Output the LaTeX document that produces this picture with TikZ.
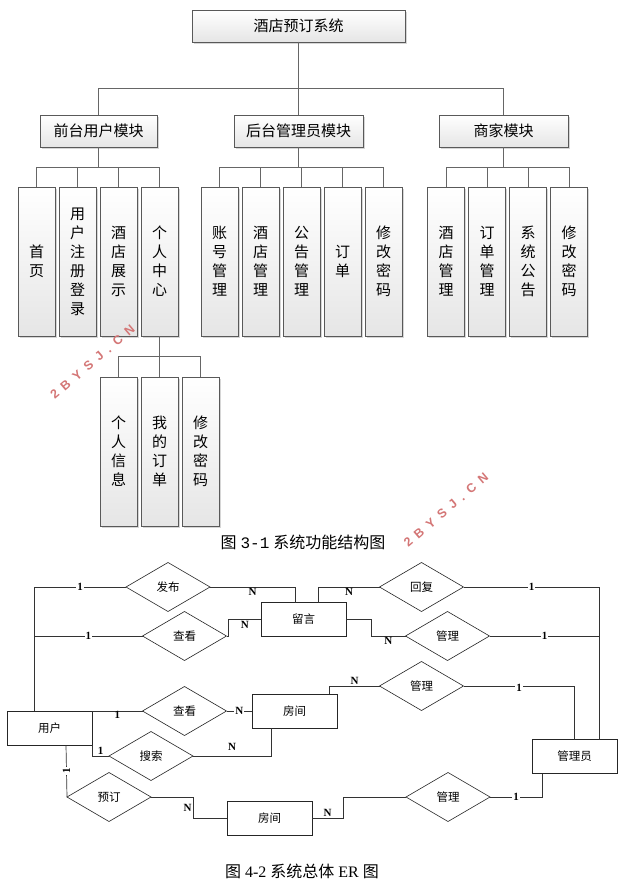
\documentclass[tikz,border=0pt]{standalone}
\usepackage{fontspec}
\setmainfont{Noto Sans CJK SC}
\newfontfamily\tnr{Liberation Serif}
\newfontfamily\monof{Liberation Mono}
\newfontfamily\wmfont{Liberation Sans}
\usetikzlibrary{shapes.geometric,shadows,calc}
\definecolor{wmred}{RGB}{212,118,118}
\newcommand\wmgap{\hspace{6.5pt}}
\newcommand\wmtext{\wmfont\bfseries 2\wmgap B\wmgap Y\wmgap S\wmgap J\wmgap .\wmgap C\wmgap N}
\begin{document}
\begin{tikzpicture}[x=1pt,y=-1pt,
  tline/.style={draw=gray!80!black, line width=0.8pt},
  fbox/.style={draw=gray!70!black, line width=0.9pt, top color=white, bottom color=gray!20,
    drop shadow={shadow xshift=1.6pt, shadow yshift=-1.6pt, fill=gray!70, opacity=0.45},
    inner sep=0pt, outer sep=0pt},
  modbox/.style={fbox, minimum height=32pt, font=\fontsize{15}{15}\selectfont},
  leaf/.style={fbox, minimum width=37pt, minimum height=149pt, align=center, font=\fontsize{15}{19}\selectfont},
  erline/.style={draw=black!80, line width=0.7pt},
  ent/.style={draw=black!85, line width=0.7pt, minimum width=85pt, minimum height=34pt, inner sep=0pt, outer sep=0pt, font=\fontsize{11.5}{12}\selectfont},
  rel/.style={diamond, draw=black!85, line width=0.6pt, minimum width=84pt, minimum height=49pt, inner sep=0pt, outer sep=0pt, font=\fontsize{11.5}{12}\selectfont},
  card/.style={font=\tnr\bfseries\fontsize{11}{11}\selectfont, inner sep=1pt},
  cardw/.style={card, fill=white},
  wm/.style={text=wmred, font=\fontsize{12.5}{13}\selectfont, inner sep=0pt},
  captext/.style={font=\fontsize{16}{16}\selectfont, inner sep=0pt}
]
\fill[white] (0,0) rectangle (626,888);
\useasboundingbox (0,0) rectangle (626,888);

% ---------- function structure ----------
\node[modbox, minimum width=213pt] (sys) at (298.5,26) {酒店预订系统};
\node[modbox, minimum width=117pt] (m1) at (98.5,131) {前台用户模块};
\node[modbox, minimum width=129pt] (m2) at (298.5,131) {后台管理员模块};
\node[modbox, minimum width=129pt] (m3) at (503.5,131) {商家模块};

\node[leaf] (a1) at (36.5,261.5) {首\\页};
\node[leaf] (a2) at (77.5,261.5) {用\\户\\注\\册\\登\\录};
\node[leaf] (a3) at (118.5,261.5) {酒\\店\\展\\示};
\node[leaf] (a4) at (159.5,261.5) {个\\人\\中\\心};

\node[leaf] (b1) at (219.5,261.5) {账\\号\\管\\理};
\node[leaf] (b2) at (260.5,261.5) {酒\\店\\管\\理};
\node[leaf] (b3) at (301.5,261.5) {公\\告\\管\\理};
\node[leaf] (b4) at (342.5,261.5) {订\\单};
\node[leaf] (b5) at (383.5,261.5) {修\\改\\密\\码};

\node[leaf] (c1) at (446,261.5) {酒\\店\\管\\理};
\node[leaf] (c2) at (487,261.5) {订\\单\\管\\理};
\node[leaf] (c3) at (528,261.5) {系\\统\\公\\告};
\node[leaf] (c4) at (569,261.5) {修\\改\\密\\码};

\node[leaf] (s1) at (118.5,451.5) {个\\人\\信\\息};
\node[leaf] (s2) at (159.5,451.5) {我\\的\\订\\单};
\node[leaf] (s3) at (200.5,451.5) {修\\改\\密\\码};

\draw[tline] (sys.south) -- ++(0,46) -| (m1.north);
\draw[tline] (sys.south) -- ++(0,46) -| (m3.north);
\draw[tline] (sys.south) -- (m2.north);
\foreach \l in {a1,a2,a3,a4} \draw[tline] (m1.south) -- ++(0,20) -| (\l.north);
\foreach \l in {b1,b2,b3,b4,b5} \draw[tline] (m2.south) -- ++(0,20) -| (\l.north);
\foreach \l in {c1,c2,c3,c4} \draw[tline] (m3.south) -- ++(0,20) -| (\l.north);
\foreach \l in {s1,s2,s3} \draw[tline] (a4.south) -- ++(0,20) -| (\l.north);

\node[captext] (cap1) at (303,542) {图\hspace{4pt}{\monof 3-1}\hspace{4pt}系统功能结构图};

% watermarks
\node[wm, rotate=40.5] (wm1) at (92.5,362) {\wmtext};
\node[wm, rotate=40.5] (wm2) at (446,510) {\wmtext};

% ---------- ER diagram ----------
\node[ent] (user) at (49.5,728) {用户};
\node[ent] (msg) at (303.5,619.5) {留言};
\node[ent] (room1) at (294.5,711) {房间};
\node[ent] (room2) at (269.5,818) {房间};
\node[ent] (admin) at (574.5,756.5) {管理员};

\node[rel] (fabu) at (168,587) {发布};
\node[rel] (ck1) at (184.5,636) {查看};
\node[rel] (hf) at (421.5,587) {回复};
\node[rel] (gl1) at (447.5,636) {管理};
\node[rel] (gl2) at (421.5,686) {管理};
\node[rel] (ck2) at (184.5,711) {查看};
\node[rel] (ss) at (151,756) {搜索};
\node[rel] (yd) at (109,797) {预订};
\node[rel] (gl3) at (448,797) {管理};

\coordinate (uL) at ($(user.north west)+(27,0)$);
\coordinate (aR) at ($(admin.north)+(25,0)$);

\draw[erline] (uL) |- node[pos=0.75, cardw] {1} (fabu.west);
\draw[erline] (uL) |- node[pos=0.75, cardw] {1} (ck1.west);
\draw[erline] (fabu.east) -| node[pos=0.25, card, below] {N} ($(msg.north)+(-8.5,0)$);
\draw[erline] (ck1.east) -- ++(2,0) |- node[pos=0.75, card, below] {N} (msg.west);
\draw[erline] ($(msg.north)+(15,0)$) |- node[pos=0.75, card, below] {N} (hf.west);
\draw[erline] (hf.east) -| node[pos=0.25, cardw] {1} (aR);
\draw[erline] (msg.east) -- ++(25,0) |- node[pos=0.75, card, below] {N} (gl1.west);
\draw[erline] (gl1.east) -- node[cardw] {1} (gl1.east -| aR);
\draw[erline] ($(room1.north)+(35,0)$) |- node[pos=0.75, card, above] {N} (gl2.west);
\draw[erline] (gl2.east) -| node[pos=0.25, cardw, yshift=-2pt] {1} (admin.north);
\draw[erline] (user.north east) -- node[card, below, yshift=1pt] {1} (ck2.west);
\draw[erline] (ck2.east) -- node[cardw] {N} (room1.west);
\draw[erline] (user.south east) |- node[pos=0.75, card, above] {1} (ss.west);
\draw[erline] (ss.east) -| node[pos=0.25, card, above=4pt] {N} ($(room1.south)+(-23.5,0)$);
\draw[erline] ($(user.south west)+(59,0)$) -- node[cardw, rotate=90] {1} (yd.west);
\draw[erline] (yd.east) -- ++(42,0) |- node[pos=0.25, card, left] {N} (room2.west);
\draw[erline] (gl3.west) -- ++(-63,0) |- node[pos=0.75, card, above] {N} (room2.east);
\draw[erline] (gl3.east) -| node[pos=0.25, cardw] {1} ($(admin.south)+(-32.5,0)$);

\node[captext] (cap2) at (302,871) {图\hspace{4pt}{\tnr 4-2}\hspace{4pt}系统总体\hspace{4pt}{\tnr ER}\hspace{4pt}图};
\end{tikzpicture}
\end{document}
